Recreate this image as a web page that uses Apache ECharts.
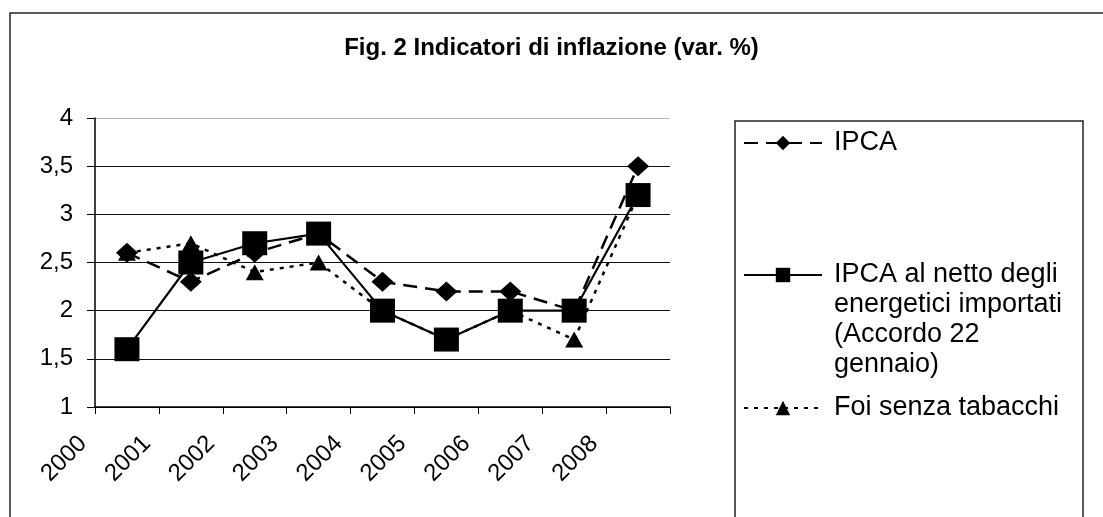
<!DOCTYPE html>
<html>
<head>
<meta charset="utf-8">
<script src="https://cdn.jsdelivr.net/npm/echarts@6/dist/echarts.min.js"></script>
<style>
  html, body { margin: 0; padding: 0; background: #fff; }
  #chart { width: 1103px; height: 517px; }
</style>
</head>
<body>
<div id="chart"></div>
<script>
const years = ['2000', '2001', '2002', '2003', '2004', '2005', '2006', '2007', '2008']
const ipca = [2.6, 2.3, 2.6, 2.8, 2.3, 2.2, 2.2, 2.0, 3.5]
const ipcaNetto = [1.6, 2.5, 2.7, 2.8, 2.0, 1.7, 2.0, 2.0, 3.2]
const foi = [2.6, 2.7, 2.4, 2.5, 2.0, 1.7, 2.0, 1.7, 3.2]

const nameIpca = 'IPCA'
const nameNetto = 'IPCA al netto degli energetici importati (Accordo 22 gennaio)'
const nameFoi = 'Foi senza tabacchi'
const nettoLines = ['IPCA al netto degli', 'energetici importati', '(Accordo 22', 'gennaio)']

const FONT = '"Liberation Sans", Arial, Helvetica, sans-serif'

const chartDom = document.getElementById('chart')
const myChart = echarts.init(chartDom)

const legendBase = {
  orient: 'vertical',
  left: 743,
  padding: 0,
  itemWidth: 78,
  itemHeight: 18,
  textStyle: {
    fontFamily: FONT,
    fontSize: 27,
    color: '#000',
    lineHeight: 30,
    padding: [0, 0, 0, 7],
  },
}

const option = {
  animation: false,
  backgroundColor: '#fff',
  title: {
    text: 'Fig. 2 Indicatori di inflazione (var. %)',
    left: 'center',
    top: 31,
    textStyle: {
      fontFamily: FONT,
      fontSize: 24,
      fontWeight: 'bold',
      color: '#000',
    },
  },
  graphic: [
    {
      type: 'polyline',
      shape: { points: [[10, 517], [10, 13], [1103, 13]] },
      style: { stroke: '#222', lineWidth: 1.5, fill: null },
    },
    {
      type: 'rect',
      shape: { x: 735, y: 121, width: 348, height: 420 },
      style: { stroke: '#222', lineWidth: 1.5, fill: null },
    },
  ],
  legend: [
    Object.assign({}, legendBase, { top: 128, data: [nameIpca] }),
    // blank lines above keep the marker level with the first text line
    Object.assign({}, legendBase, {
      top: 170,
      data: [nameNetto],
      formatter: () => '\n\n\n' + nettoLines.join('\n'),
    }),
    Object.assign({}, legendBase, { top: 393, data: [nameFoi] }),
  ],
  grid: {
    left: 95,
    right: 433,
    top: 118,
    bottom: 110,
    containLabel: false,
  },
  xAxis: {
    type: 'category',
    data: years,
    boundaryGap: true,
    axisLine: { lineStyle: { color: '#000', width: 1.5 } },
    axisTick: { show: true, length: 7, interval: 0, lineStyle: { color: '#000' } },
    axisLabel: {
      interval: 0,
      rotate: 45,
      margin: -11,
      padding: [0, 62, 0, 0],
      fontFamily: FONT,
      fontSize: 24,
      color: '#000',
    },
    splitLine: { show: false },
  },
  yAxis: {
    type: 'value',
    min: 1,
    max: 4,
    interval: 0.5,
    axisLine: { show: true, lineStyle: { color: '#000', width: 1.5 } },
    axisTick: { show: true, inside: false, length: 8, lineStyle: { color: '#000' } },
    axisLabel: {
      margin: 22,
      fontFamily: FONT,
      fontSize: 24,
      color: '#000',
      formatter: (v) => String(v).replace('.', ','),
    },
    splitLine: {
      show: true,
      lineStyle: {
        color: ['#000', '#111', '#111', '#111', '#111', '#111', '#bbb'],
        width: 1.2,
      },
    },
  },
  series: [
    {
      name: nameIpca,
      type: 'line',
      data: ipca,
      symbol: 'diamond',
      symbolSize: [22, 20],
      lineStyle: { color: '#000', width: 2.5, type: [14, 8] },
      itemStyle: { color: '#000' },
      z: 2,
    },
    {
      name: nameNetto,
      type: 'line',
      data: ipcaNetto,
      symbol: 'rect',
      symbolSize: [25, 24],
      lineStyle: { color: '#000', width: 2.2, type: 'solid' },
      itemStyle: { color: '#000' },
      z: 3,
    },
    {
      name: nameFoi,
      type: 'line',
      data: foi,
      symbol: 'triangle',
      symbolSize: [18, 16],
      lineStyle: { color: '#000', width: 2.5, type: [4, 6] },
      itemStyle: { color: '#000' },
      z: 4,
    },
  ],
}

option && myChart.setOption(option)
</script>
</body>
</html>
